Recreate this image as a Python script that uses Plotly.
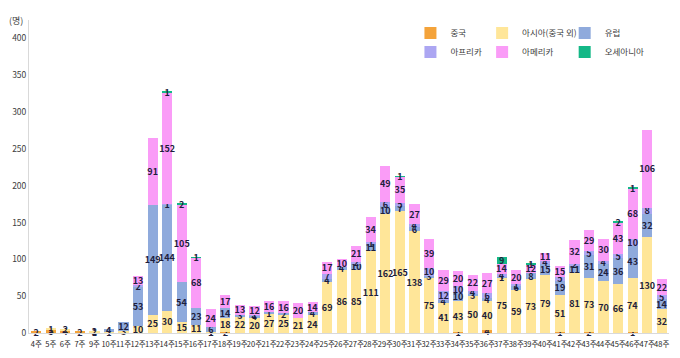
import plotly.graph_objects as go

weeks = ["4주", "5주", "6주", "7주", "9주", "10주", "11주", "12주", "13주", "14주",
         "15주", "16주", "17주", "18주", "19주", "20주", "21주", "22주", "23주", "24주",
         "25주", "26주", "27주", "28주", "29주", "30주", "31주", "32주", "33주", "34주",
         "35주", "36주", "37주", "38주", "39주", "40주", "41주", "42주", "43주", "44주",
         "45주", "46주", "47주", "48주"]

china    = [2, 5, 4, 2, 1, 0, 0, 0, 0, 0, 0, 0, 1, 2, 0, 0, 0, 0, 0, 0, 0, 0, 0, 0, 0, 0,
            0, 0, 0, 1, 0, 4, 0, 0, 0, 0, 1, 0, 2, 0, 0, 1, 0, 0]
asia     = [0, 1, 2, 0, 2, 1, 3, 10, 25, 30, 15, 11, 1, 18, 22, 20, 27, 25, 21, 24, 69, 86,
            85, 111, 162, 165, 138, 75, 41, 43, 50, 40, 75, 59, 73, 79, 51, 81, 73, 70,
            66, 74, 130, 32]
europe   = [0, 0, 0, 0, 0, 4, 12, 53, 149, 144, 54, 23, 6, 14, 3, 4, 1, 2, 0, 4, 4, 4,
            10, 11, 10, 7, 6, 3, 4, 10, 3, 4, 1, 6, 8, 15, 19, 11, 31, 24, 36, 43, 32, 14]
africa   = [0, 0, 0, 0, 0, 0, 0, 2, 0, 1, 0, 0, 0, 0, 0, 1, 0, 0, 0, 0, 7, 0, 2, 1, 6, 5,
            4, 10, 12, 10, 4, 6, 4, 1, 0, 4, 5, 2, 5, 4, 5, 10, 8, 5]
america  = [0, 0, 0, 0, 0, 0, 0, 13, 91, 152, 105, 68, 24, 17, 13, 12, 16, 16, 20, 14,
            17, 10, 21, 34, 49, 35, 27, 39, 29, 20, 22, 27, 14, 20, 12, 11, 15, 32, 29,
            30, 43, 68, 106, 22]
oceania  = [0, 0, 0, 0, 0, 0, 0, 0, 0, 1, 2, 1, 0, 0, 0, 0, 0, 0, 0, 0, 0, 0, 0, 0, 0, 1,
            0, 0, 0, 0, 0, 0, 9, 0, 1, 0, 0, 0, 0, 0, 2, 1, 0, 0]

series_names = ["중국", "아시아(중국 외)", "유럽", "아프리카", "아메리카", "오세아니아"]
series_vals = [china, asia, europe, africa, america, oceania]
series_colors = ["#F4A33A", "#FFE699", "#8FAADC", "#ACA6F2", "#FA9CF7", "#14B887"]

FONT = "Noto Sans CJK KR"

# legend laid out as 3 vertical columns of two entries
legend_ids = ["legend", "legend3", "legend2", "legend", "legend3", "legend2"]
col_x = {"legend": 0.596, "legend3": 0.708, "legend2": 0.837}

fig = go.Figure()
for i, (name, vals, color) in enumerate(zip(series_names, series_vals, series_colors)):
    fig.add_trace(go.Bar(
        name=name, x=weeks, y=vals, marker_color=color, marker_line_width=0,
        text=[str(v) if v else "" for v in vals],
        textposition="inside", insidetextanchor="middle", textangle=0,
        constraintext="none", cliponaxis=False,
        textfont=dict(family=FONT, size=9, color="#1E1E3C", weight="bold"),
        legend=legend_ids[i], legendgroup=f"g{i}",
    ))

legends = {}
for lid, xv in col_x.items():
    legends[lid] = dict(orientation="v", x=xv, y=0.928, xanchor="left", yanchor="middle",
                        bgcolor="rgba(0,0,0,0)", itemwidth=30, tracegroupgap=4,
                        traceorder="normal",
                        font=dict(family=FONT, size=8.5, color="#404040"))

fig.update_layout(
    barmode="stack", bargap=0.3,
    width=672, height=350,
    margin=dict(l=21, r=11, t=12, b=25, autoexpand=False),
    paper_bgcolor="white", plot_bgcolor="white",
    font=dict(family=FONT, size=9, color="#404040"),
    uniformtext=dict(minsize=9, mode="show"),
    showlegend=True,
    annotations=[dict(text="(명)", x=0, y=1.0, xref="paper", yref="paper",
                      xanchor="right", yanchor="middle", xshift=-4, showarrow=False,
                      font=dict(family=FONT, size=9, color="#404040"))],
    **legends,
)
fig.update_xaxes(type="category", showline=True, linecolor="#D9D9D9", linewidth=1,
                 ticks="", showgrid=False, tickangle=0, automargin=False,
                 ticklabelstandoff=4,
                 tickfont=dict(family=FONT, size=7.5, color="#262626"))
fig.update_yaxes(range=[0, 425], tickvals=[0, 50, 100, 150, 200, 250, 300, 350, 400],
                 showline=True, linecolor="#D9D9D9", linewidth=1, showgrid=False,
                 zeroline=False, ticks="", automargin=False,
                 tickfont=dict(family=FONT, size=8.5, color="#404040"))

fig.write_html("out.html")
